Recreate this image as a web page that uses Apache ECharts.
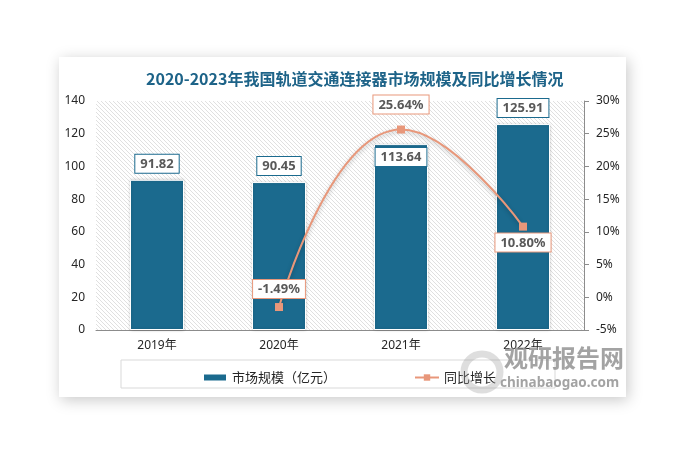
<!DOCTYPE html>
<html><head><meta charset="utf-8">
<script src="https://cdn.jsdelivr.net/npm/echarts@6/dist/echarts.min.js"></script>
<style>html,body{margin:0;padding:0;background:#fff}#c{width:682px;height:450px}</style>
</head><body><div id="c"></div>
<script>
const categories = ['2019年','2020年','2021年','2022年'];
const marketSize = [91.82, 90.45, 113.64, 125.91];
const growth = [null, -1.49, 25.64, 10.80];
const leftTicks = {min:0, max:140, interval:20};
const rightTicks = {min:-5, max:30, interval:5};
const titleText = '2020-2023年我国轨道交通连接器市场规模及同比增长情况';
const seriesNames = ['市场规模（亿元）','同比增长'];

const barColor = '#1b6a8e';
const lineColor = '#e8977a';
const font = "'Noto Sans','Noto Sans CJK SC',sans-serif";
const cjk = "'Noto Sans CJK SC',sans-serif";

// hatch pattern
const pc = document.createElement('canvas');
pc.width = 4; pc.height = 4;
const g = pc.getContext('2d');
g.fillStyle = '#ffffff'; g.fillRect(0,0,4,4);
g.strokeStyle = '#e0e0e0'; g.lineWidth = 1;
g.beginPath();
g.moveTo(-1,-1); g.lineTo(5,5);
g.moveTo(-5,-1); g.lineTo(1,5);
g.moveTo(3,-1); g.lineTo(9,5);
g.stroke();

const chart = echarts.init(document.getElementById('c'), null, {renderer:'canvas'});
chart.setOption({
  backgroundColor:'#ffffff',
  animation:false,
  graphic:[
    {type:'rect', z:-10, shape:{x:59,y:57,width:567,height:340},
     style:{fill:'#fff', shadowBlur:14, shadowColor:'rgba(0,0,0,0.22)', shadowOffsetX:2, shadowOffsetY:3}},
    {type:'rect', z:-5, shape:{x:121,y:360,width:434,height:28},
     style:{fill:'none', stroke:'#d9d9d9', lineWidth:1}},
    {type:'circle', z:50, shape:{cx:482,cy:372,r:18}, style:{fill:'none', stroke:'rgba(160,160,160,0.35)', lineWidth:7}},
    {type:'text', z:50, left:504, top:346, style:{text:'观研报告网', fill:'rgba(140,140,140,0.8)', font:"bold 24px 'Noto Sans CJK SC'"}},
    {type:'text', z:50, left:500, top:376, style:{text:'chinabaogao.com', fill:'rgba(140,140,140,0.8)', font:"bold 13.5px 'Noto Sans'"}}
  ],
  title:{text:titleText, left:141, top:66,
    textStyle:{color:'#1d6388', fontSize:16, fontWeight:'bold', fontFamily:cjk}},
  grid:{left:96, right:98, top:101, bottom:120, show:true, borderWidth:0,
    backgroundColor:{image:pc, repeat:'repeat'}},
  legend:{left:197, top:366, itemGap:78, itemWidth:24, itemHeight:8,
    textStyle:{fontSize:13, color:'#262626', fontFamily:cjk},
    data:[{name:seriesNames[0], icon:'rect'},{name:seriesNames[1]}]},
  xAxis:{type:'category', data:categories,
    axisLine:{lineStyle:{color:'#8c8c8c', width:1}}, axisTick:{show:false},
    axisLabel:{color:'#262626', fontSize:12, fontFamily:font, margin:10}},
  yAxis:[
    {type:'value', min:leftTicks.min, max:leftTicks.max, interval:leftTicks.interval,
     axisLine:{show:false}, axisTick:{show:false}, splitLine:{show:false},
     axisLabel:{color:'#262626', fontSize:12, fontFamily:font, margin:11}},
    {type:'value', min:rightTicks.min, max:rightTicks.max, interval:rightTicks.interval,
     axisLine:{show:true, lineStyle:{color:'#8c8c8c'}},
     axisTick:{show:true, length:5, lineStyle:{color:'#8c8c8c'}}, splitLine:{show:false},
     axisLabel:{color:'#262626', fontSize:12, fontFamily:font, margin:12, formatter:'{value}%'}}
  ],
  series:[
    {name:seriesNames[0], type:'bar', data:marketSize, barWidth:54,
     itemStyle:{color:barColor, borderColor:'#fff', borderWidth:1, shadowBlur:3, shadowColor:'rgba(0,0,0,0.2)'},
     label:{show:true, position:'top', distance:7,
       formatter:p=>p.value.toFixed(2),
       color:'#595959', fontSize:13, fontWeight:'bold', fontFamily:font,
       backgroundColor:'#fff', borderColor:barColor, borderWidth:1, padding:[3,5,2,5]}},
    {name:seriesNames[1], type:'line', yAxisIndex:1, data:growth, smooth:0.5, connectNulls:false,
     symbol:'rect', symbolSize:8, showSymbol:true,
     lineStyle:{color:lineColor, width:2, shadowBlur:4, shadowColor:'rgba(0,0,0,0.25)', shadowOffsetY:2},
     itemStyle:{color:lineColor},
     label:{show:true, position:'top', distance:9,
       formatter:p=>p.value.toFixed(2)+'%',
       color:'#595959', fontSize:13, fontWeight:'bold', fontFamily:font,
       backgroundColor:'#fff', borderColor:lineColor, borderWidth:1, padding:[3,5,2,5]},
     z:5}
  ]
});
const barData = marketSize.map((v,i)=> i===2 ? {value:v, label:{position:'insideTop', distance:4}} : v);
const lineData = growth.map((v,i)=> {
  if (v===null) return '-';
  if (i===1) return {value:v, label:{position:'top', distance:5}};
  if (i===2) return {value:v, label:{position:'top', distance:12}};
  if (i===3) return {value:v, label:{position:'bottom', distance:3}};
  return v;
});
chart.setOption({series:[{data:barData},{data:lineData}]});
</script></body></html>
